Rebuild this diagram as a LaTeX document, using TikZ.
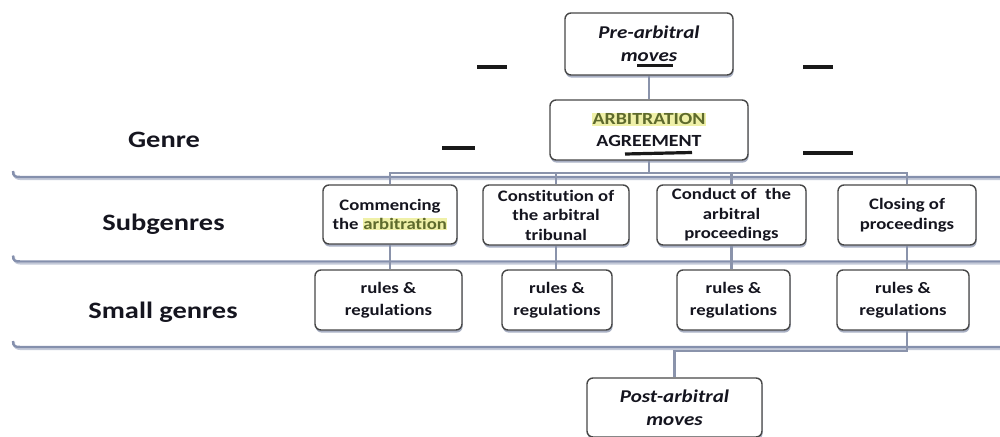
\documentclass[tikz,border=0pt]{standalone}
\usepackage{fontspec}
\setmainfont{Carlito}[FakeStretch=1.17, Ligatures=NoCommon]
\newfontfamily\labelfont{Carlito}[FakeStretch=1.21, Ligatures=NoCommon]
\usetikzlibrary{shadows,backgrounds}

\definecolor{boxline}{HTML}{474747}
\definecolor{boxshadow}{HTML}{8C96B0}
\definecolor{connline}{HTML}{8A93AB}
\definecolor{bandline}{HTML}{8590AD}
\definecolor{bandglow}{HTML}{C3C9D8}
\definecolor{inktext}{HTML}{15151F}
\definecolor{hlyellow}{HTML}{EFF0A8}
\definecolor{hltext}{HTML}{5E6A2C}

% highlighted word
\newcommand{\hlword}[1]{{\setlength{\fboxsep}{0.6pt}\colorbox{hlyellow}{\textcolor{hltext}{#1}}}}

\tikzset{
  levelbox/.style={draw=boxline, line width=1.4pt, rounded corners=6pt, fill=white,
    align=center, inner sep=0pt, text=inktext,
    drop shadow={shadow xshift=0.6pt, shadow yshift=-2.6pt, fill=boxshadow, opacity=0.75}},
  subbox/.style={levelbox, font=\fontsize{16}{19.5}\selectfont\bfseries},
  rulebox/.style={levelbox, minimum height=60pt, font=\fontsize{16}{22}\selectfont\bfseries},
  movebox/.style={levelbox, font=\fontsize{18}{23.5}\selectfont\bfseries\itshape},
  levellabel/.style={anchor=base, text=inktext, font=\labelfont\fontsize{23.5}{28}\selectfont\bfseries},
  conn/.style={draw=connline, line width=2.6pt},
  bandrule/.style={draw=bandline, line width=2.4pt},
  bandhalo/.style={draw=bandglow, line width=2pt},
  blackbar/.style={draw=black!90, line width=3.2pt},
}

\begin{document}
\begin{tikzpicture}[x=1pt, y=-1pt]
\useasboundingbox (0,0) rectangle (1000,436);

% level labels
\node[levellabel] (lgenre) at (164,147) {Genre};
\node[levellabel] (lsub)   at (163.5,230) {Subgenres};
\node[levellabel] (lsmall) at (163,318) {Small genres};

% genre level
\node[movebox, minimum width=168pt, minimum height=62pt] (pre) at (649,44) {Pre-arbitral\\moves};
\node[levelbox, minimum width=198pt, minimum height=60pt,
      font=\fontsize{17}{22}\selectfont\bfseries] (agr) at (649,130)
      {\hlword{ARBITRATION}\\AGREEMENT};

% subgenres
\node[subbox, minimum width=134pt, minimum height=59pt] (s1) at (390,214.5) {Commencing\\the \hlword{arbitration}};
\node[subbox, minimum width=146pt, minimum height=60pt] (s2) at (556,215) {Constitution of\\the arbitral\\tribunal};
\node[subbox, minimum width=149pt, minimum height=60pt] (s3) at (731.5,215) {Conduct of\ \ the\\arbitral\\proceedings};
\node[subbox, minimum width=138pt, minimum height=60pt] (s4) at (907,215) {Closing of\\proceedings};

% small genres
\node[rulebox, minimum width=147pt] (r1) at (388.5,300) {rules \&\\regulations};
\node[rulebox, minimum width=110pt] (r2) at (557,300) {rules \&\\regulations};
\node[rulebox, minimum width=113pt] (r3) at (733.5,300) {rules \&\\regulations};
\node[rulebox, minimum width=132pt] (r4) at (903,300) {rules \&\\regulations};

% post-arbitral moves
\node[movebox, minimum width=175pt, minimum height=59pt] (post) at (674.5,407.5) {Post-arbitral\\moves};

% junction points of the connectors
\coordinate (topbar) at (649,173);
\coordinate (lowbar) at (674.5,351);

\begin{scope}[on background layer]
  % level separators with curled left ends
  \foreach \yy in {177,261.5,347} {
    \draw[bandhalo] (14,\yy-5) .. controls (14,\yy+0.5) and (16,\yy+2.2) .. (22,\yy+2.2) -- (1000,\yy+2.2);
    \draw[bandrule] (13,\yy-6) .. controls (13,\yy-0.5) and (15,\yy) .. (21,\yy) -- (1000,\yy);
  }
  % connectors
  \draw[conn] (pre.south) -- (agr.north);
  \draw[conn] (agr.south) -- (topbar);
  \foreach \s in {s1,s2,s3,s4} { \draw[conn] (\s.north) |- (topbar); }
  \draw[conn] (s1.south) -- (s1.south |- r1.north);
  \draw[conn] (s2.south) -- (s2.south |- r2.north);
  \draw[conn] (s3.south) -- (s3.south |- r3.north);
  \draw[conn] (s4.south) -- (s4.south |- r4.north);
  \draw[conn] (s4.south |- r4.south) |- (lowbar) -- (post.north);
\end{scope}

% hand-drawn dashes and underlines
\draw[blackbar] (477,67) -- (507,67);
\draw[blackbar] (803,67) -- (833,67);
\draw[blackbar] (442,148) -- (475,148);
\draw[blackbar] (803,153) -- (853,153);
\draw[blackbar] (637,65.5) -- (673,65.5);
\draw[blackbar] (625,154) -- (692,152.5);
\end{tikzpicture}
\end{document}
